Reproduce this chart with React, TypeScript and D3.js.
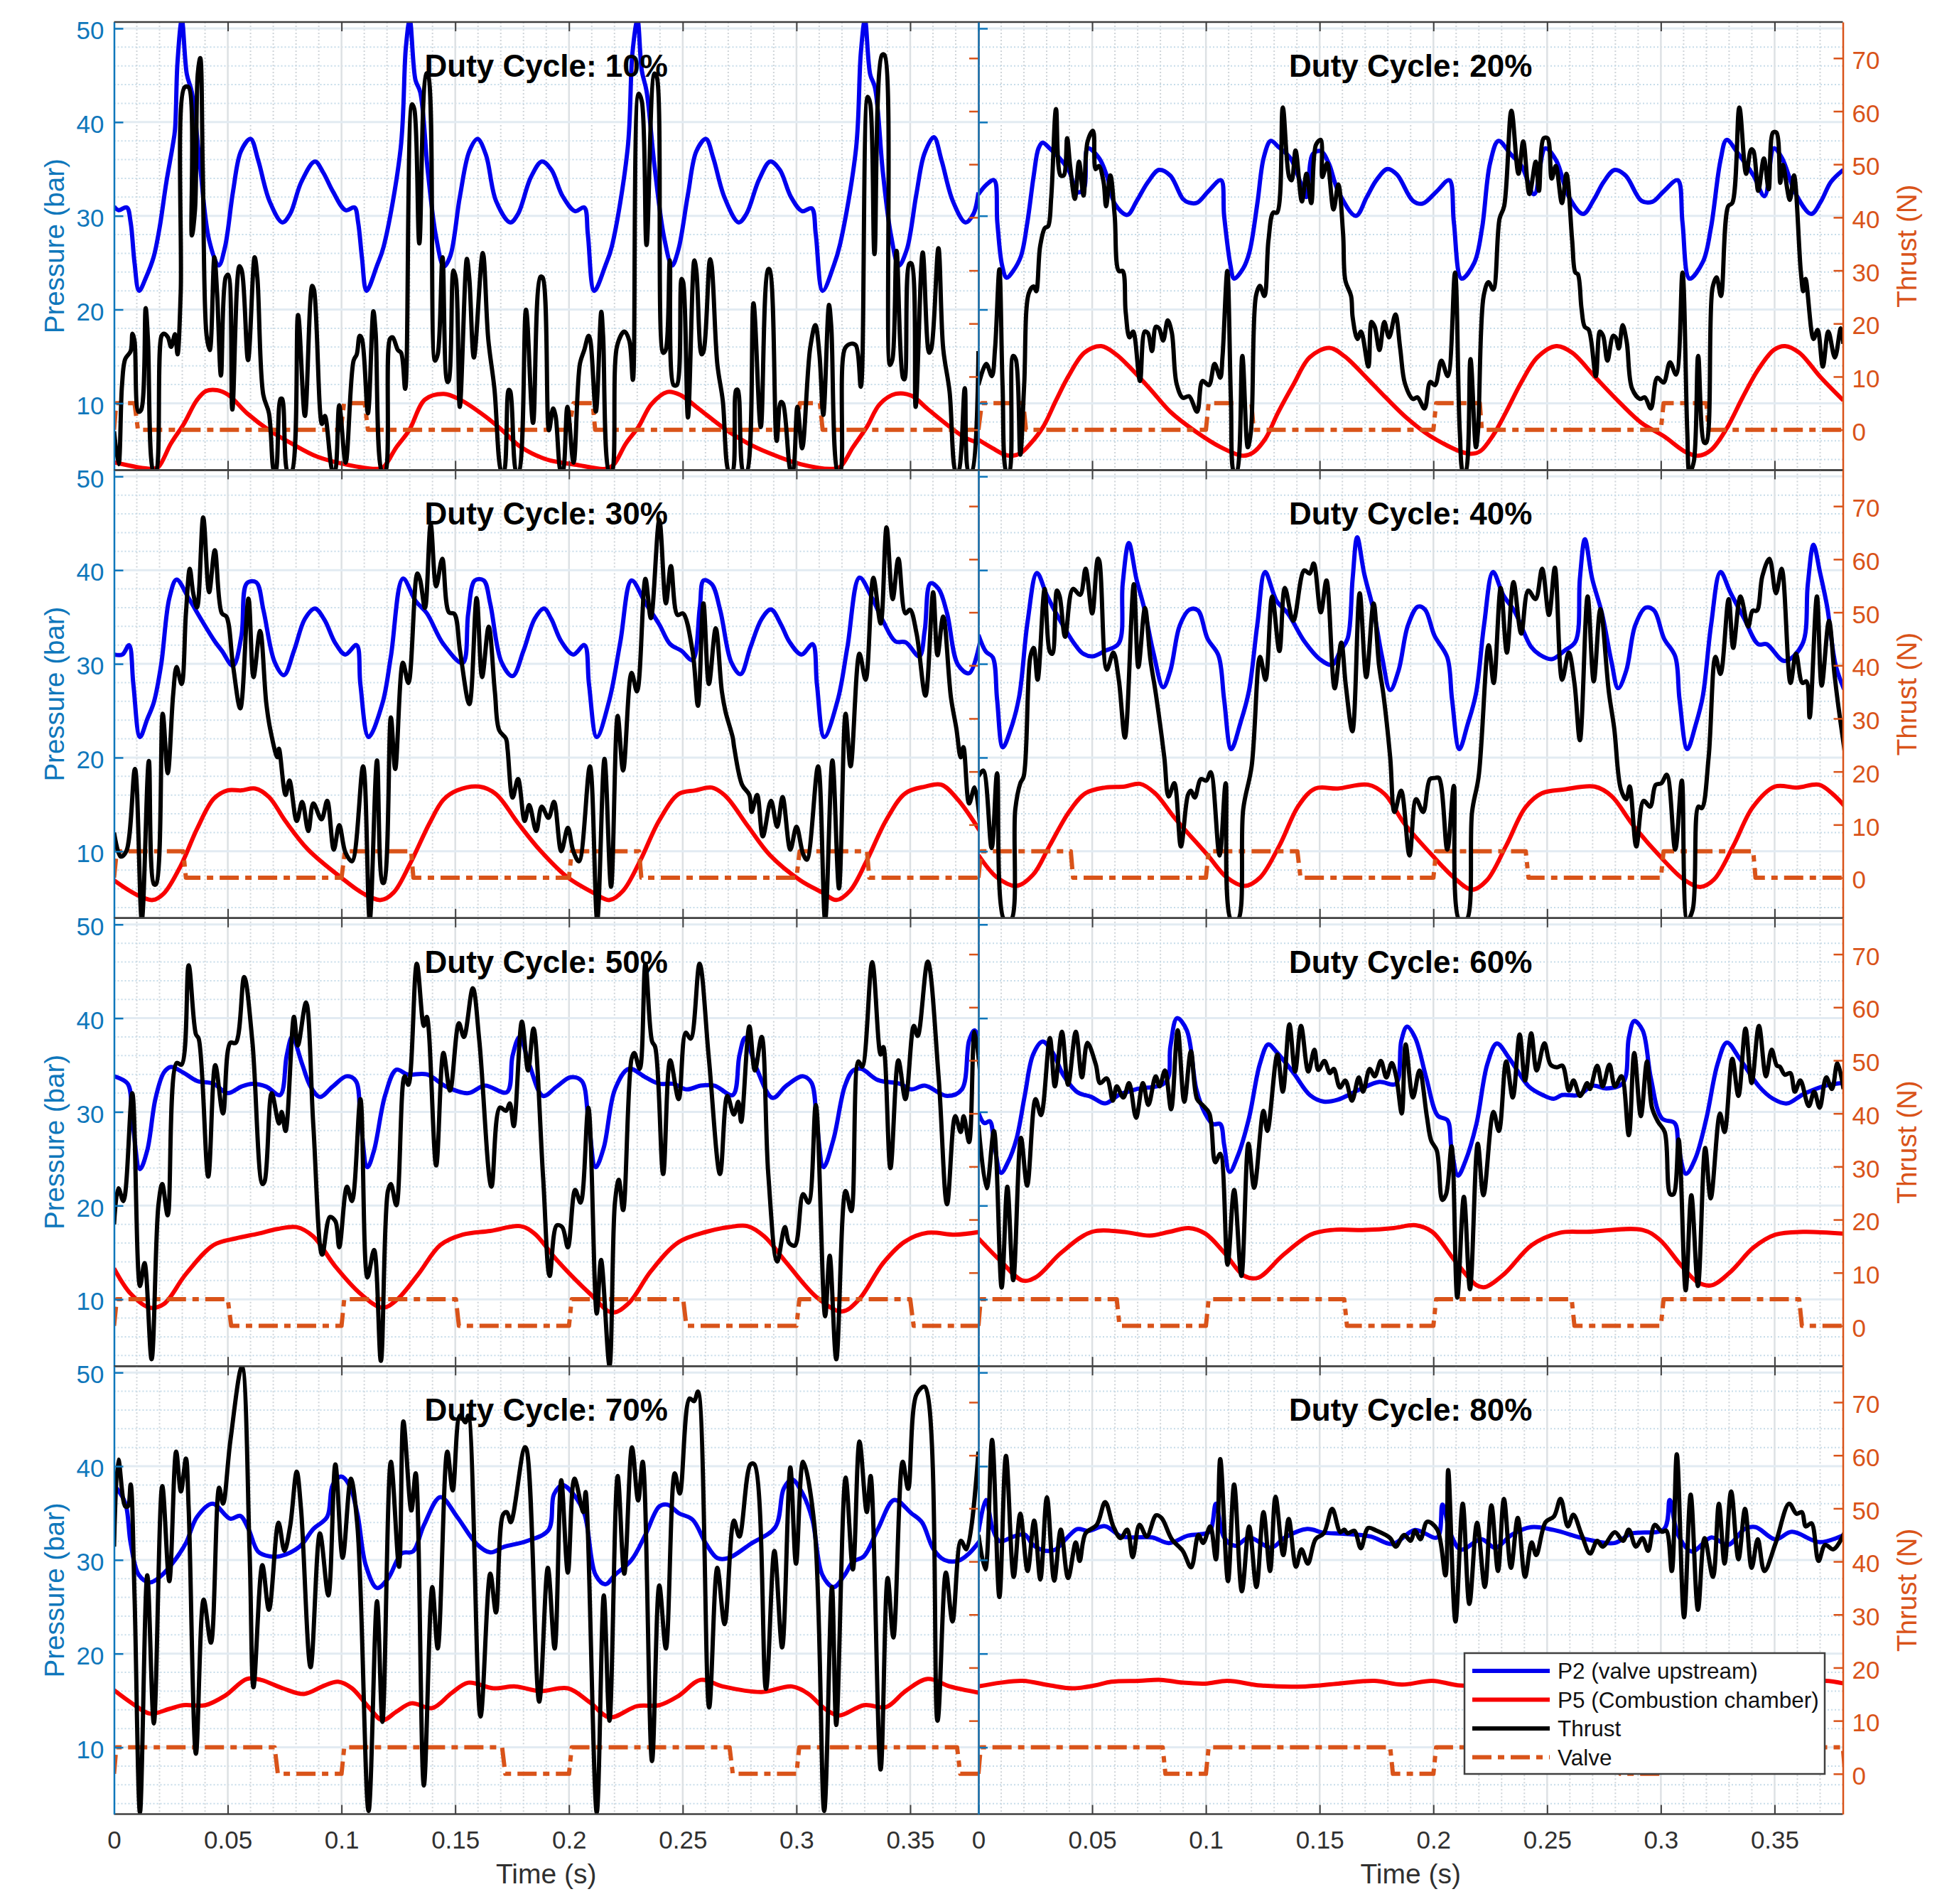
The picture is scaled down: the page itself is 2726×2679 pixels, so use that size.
import React, { useEffect, useRef } from 'react';
import * as d3 from 'd3';

// all series are flat lists: time (ms), value, time (ms), value ...
const p2_10 = [0,31, 2,30.6, 5.6,30.9, 7.3,29.3, 9,25, 11,22, 14,23.4, 17.4,25.6, 20,28.7, 23,33.6, 25.8,37.5, 26.8,39.2, 27.9,46.4, 29.8,50.9, 32,45.1, 34.2,43.2, 37.7,35.6, 41.8,27.4, 46,24.7, 48.8,26.7, 52.3,32.6, 55.8,36.9, 60,38.2, 63.4,35.9, 68.3,31.6, 74,29.3, 77.4,30.2, 82.3,33.6, 88.3,35.8, 92,34.6, 96.2,32.6, 101.8,30.6, 105.7,30.9, 107.3,29.3, 109,25.5, 111,22, 115.6,24.7, 118.5,26.7, 126,37.2, 128.3,48, 130,50.9, 132.5,44.5, 134.6,43.2, 138,34.6, 141.6,27.7, 145,24.6, 147.8,25.7, 152,32, 156.2,36.9, 159.8,38.2, 163.5,36.5, 167.9,31.6, 174.2,29.3, 177.6,30.2, 183.2,34.1, 188.1,35.8, 192.3,34.9, 197.2,32.1, 202.7,30.5, 206.7,30.9, 208.3,28, 211.1,22, 216,24.7, 218.8,26.7, 225.8,37.2, 227.9,47.4, 230.1,50.9, 232,45.5, 234.1,43.3, 237.6,35.3, 241.8,27.7, 245.3,24.7, 248.1,26.4, 252.3,32.3, 256,36.9, 260.2,38.2, 263.4,36.2, 268.3,32, 274.6,29.3, 278,30.2, 283.6,33.9, 288.5,35.8, 292.7,34.9, 297.6,32, 302.5,30.5, 306.7,30.8, 308.5,28, 311.5,22, 316.4,24.7, 319.2,27, 326.2,37.2, 328.3,47.4, 330.1,50.9, 332.4,45.1, 334.5,43.7, 338,34.6, 341.5,28, 345,24.7, 348.5,26.4, 352.7,32.3, 356.2,36.6, 360.4,38.4, 363.8,35.9, 368.7,31.6, 374.3,29.3, 377.8,30.2, 380,32.5];
const p5_10 = [0,3.7, 16.7,3, 19.5,3.2, 25,5.7, 30.7,7.8, 36.3,10.3, 40.4,11.3, 45.3,11.4, 50.2,10.9, 58.6,8.9, 68.3,7.1, 78.1,5.7, 89.3,4.3, 103.2,3.4, 115.8,3, 118.5,3.2, 124.1,5.3, 129.7,7.1, 136.7,10.4, 145,11, 152,10.4, 163.2,8.6, 170.7,7.1, 179,5.3, 190.2,4, 204.1,3.4, 216,3, 219.5,3.4, 225,5.7, 230.6,7.5, 236.2,9.9, 243.2,11.2, 248.8,10.9, 257.1,9.4, 268.3,7.3, 278.1,5.8, 287.8,4.7, 301.8,3.5, 315.7,3, 319.2,3.2, 324.8,5.3, 331,7.5, 336.6,9.9, 343.6,11, 350.6,10.8, 357.6,9.4, 367.3,7.5, 374.3,6.3, 381,5.7];
const thrust_10 = [0,-0.3, 2,-6.5, 3.5,8.4, 4.9,13.3, 7.3,14.8, 8.1,18.1, 9,16.8, 10.7,3.4, 11.9,3.7, 13.9,22.9, 14.9,17.1, 17.4,-8, 18.4,-8, 20.9,17.7, 22,18.1, 23.7,17.4, 25.1,15.6, 26.8,18, 27.9,14.2, 29.3,25.8, 31,64.5, 32.8,64.5, 34.2,36.6, 35.6,41.5, 36.8,67, 37.9,70, 39,49, 40.7,17.7, 42.1,15, 44.1,32.5, 45.3,25.8, 47,10.2, 49.1,28.7, 50.2,29.2, 52,3.8, 55.1,30.8, 56.2,29.9, 58.9,13.1, 61.8,32.5, 63,28.7, 65.6,6.6, 68.1,3.1, 70.4,-8, 71,-8, 73.2,5.8, 73.9,5.8, 76.4,-8, 78,-8, 80.9,21.6, 83.9,2.6, 87.1,27.1, 87.9,26.4, 91.4,1.1, 92.7,2.6, 96.2,-8, 97,-8, 99,4.6, 101.8,-6.2, 105.3,13, 106.7,14.2, 108,17.7, 109,17.1, 111.6,3.1, 114,22.3, 115,18.3, 117.9,-8, 119.2,-8, 121.3,17.1, 122.5,17.4, 124.8,15, 126.2,14.5, 128,7.7, 131,61.3, 132,60.4, 134.2,35.1, 137.3,67.1, 138,67, 141.1,13, 142.3,14.2, 144.4,32.5, 146.5,9, 147.2,9.3, 149.2,30, 150.3,28.4, 152,4.3, 155.1,32.2, 156.2,28.4, 158.2,13.6, 162.1,33.3, 164.5,17.1, 167.2,7.8, 170.4,-8, 171.3,-8, 173.5,7.5, 174.2,7.2, 176.9,-8, 177.9,-8, 181.1,22.6, 184.2,1.3, 187.4,28.8, 188.4,28.7, 191.2,-0.1, 193,4, 194.1,2.6, 196.5,-8, 197.2,-8, 199.3,4.3, 202,-6.2, 204.8,12.4, 206.7,15, 208.6,17.7, 209.4,16.8, 211.8,3.4, 214.2,22.2, 215,17.7, 217.7,-8, 218.8,-8, 221.2,15.9, 224.4,18.5, 226.5,16.8, 228.1,9.4, 230.6,63.3, 232,61.9, 234.1,34.8, 237.6,67.1, 238.6,66.5, 241.4,14.5, 242.5,15, 244.3,31.9, 246,8.4, 247.4,8.4, 249.5,28.4, 250.2,27.8, 252.3,2.3, 255.1,31.9, 256,29.9, 258.3,14.2, 259.2,14.8, 262,32.1, 262.7,31, 265.2,12.4, 267.6,5.5, 270.4,-8, 271.8,-8, 273.5,7.5, 274.2,7.5, 276.7,-8, 278.1,-8, 281.1,23.8, 284.3,0.5, 287.5,30.2, 288.2,30.2, 291.3,-2.1, 293.1,5.2, 294.1,4.9, 297.6,-8, 298.3,-8, 300.4,4.3, 302.5,-3.5, 306,15.3, 308.3,19.7, 310.1,14.2, 311.8,2.8, 314.3,23.5, 315.3,19.4, 318.2,-8, 319.2,-8, 321.3,15.3, 324,16.2, 326.1,15.9, 328.3,8.1, 331.3,62.7, 332.4,61.5, 334.3,33.1, 337.6,70.6, 338.7,70.6, 341.1,12.2, 342.2,13.3, 344,33.7, 346.8,9.8, 347.5,9.5, 349.6,31.3, 350.6,31.3, 352.4,4.3, 355.5,33.4, 358.3,14.5, 359.3,15.3, 362.4,34.2, 364.5,15.3, 367.3,7.2, 370.1,-8, 371.1,-8, 374,7.8, 375.7,-8, 377,-8, 380,14.8];
const valve_10 = [0,0, 1,5, 9,5, 10.5,0, 99.7,0, 101.1,5, 110.2,5, 111.6,0, 199.9,0, 202,5, 210.4,5, 211.5,0, 300,0, 301.5,5, 310.3,5, 311.5,0, 380,0];

const p2_20 = [0,32.3, 3.4,33.3, 6.9,33.8, 8.3,29.3, 10.4,24.7, 12.4,23.4, 15.2,24.1, 18.7,25.7, 21.5,29.3, 24.3,34.3, 26.4,37.2, 28.2,37.8, 31.3,37.2, 35.5,36.2, 39.6,34.9, 43.8,32.5, 46.5,33, 48,37.2, 52.9,36.2, 56.4,34.3, 59.9,31.3, 65.4,30.1, 69.6,31.6, 74.5,33.6, 79.4,34.9, 84.3,34.3, 89.9,31.8, 92.6,31.4, 96.1,31.4, 101,32.6, 106.6,33.8, 108,30, 110.8,24.7, 112.4,23.3, 116.4,24.4, 119.1,26.1, 122.6,31.3, 125.4,36.2, 128.5,38, 131.7,37.4, 137.3,36.1, 141.5,33.6, 144.2,32, 147,36.6, 150.5,36.9, 154,35.6, 158.2,32.6, 165.9,30, 170.7,32, 174.9,33.8, 179.8,35, 184,34.4, 191,31.6, 195.2,31.3, 201.4,32.6, 207,33.8, 209,29.3, 212.4,23.3, 218,25, 221.4,28.7, 224.9,35.6, 228.6,38, 233.9,36.6, 238.8,35.3, 244.3,32.3, 249.2,37.2, 254,35.9, 259.6,32, 265.8,30.2, 270.7,31.8, 274.8,33.6, 279.7,34.9, 284.5,34.3, 291.5,31.6, 296.3,31.5, 301.2,32.6, 307.4,33.8, 309.5,29.3, 312.6,23.3, 318.5,25.1, 322,28.7, 326.2,35.9, 328.9,38.1, 333.8,36.7, 340.7,34.3, 345.6,32.1, 349.7,37.2, 353.2,36.2, 359.4,32.3, 366.1,30.2, 370.5,31.6, 374.7,33.6, 380.2,34.9];
const p5_20 = [0,6.1, 6.2,5.2, 11.7,4.5, 15,4.4, 18.7,4.7, 22.9,5.7, 28.5,7.5, 34.1,10.3, 39.6,12.9, 46.6,15.4, 54,16.1, 60.6,15.2, 67.5,13.6, 75.9,11.4, 84.3,9.1, 95.4,7, 106.6,5.3, 116.3,4.4, 120.5,4.7, 126.1,6.2, 131.7,9, 138.7,12.1, 145.6,14.9, 154.3,15.9, 161,15, 170.7,12.7, 179.1,10.6, 188.9,8.3, 198.6,6.5, 212.4,4.8, 216.6,4.6, 220.7,4.9, 226.3,6.6, 231.8,9, 238.8,12.3, 245.7,14.9, 254,16.1, 261,15.4, 270.7,12.9, 281.8,10.1, 291.5,7.9, 301.2,6.5, 310.9,4.8, 316.4,4.4, 322,5, 328.9,7.3, 335.9,10.6, 342.8,13.6, 349.7,15.7, 354.6,16.1, 360.8,15.4, 370.5,12.7, 380.2,10.3];
const thrust_20 = [0,8.4, 3.4,12.4, 5.9,10.1, 7.3,15.3, 9.2,30.2, 10.6,8.4, 12.4,-8, 13.5,-8, 15.2,13.9, 16.4,13.3, 18.4,-4.7, 20.1,8.4, 22.2,25.8, 24.3,27, 25.4,26.1, 27.1,34.5, 29.2,38, 30.6,38.3, 32,43.8, 34.1,60.4, 36.1,47.9, 37.5,47.9, 39,54.9, 40.3,49.7, 42.4,43.5, 44.2,50.5, 46.2,44.1, 48,54.3, 50.4,56.3, 51.5,49.1, 52.9,49.7, 55,46.7, 56.1,42.1, 58,47.9, 59.9,40.3, 61.7,29.9, 63.4,29.9, 64.7,22.3, 66.4,17.4, 68,18.5, 71,9.2, 73.1,18.5, 74.5,18.2, 76.3,14.8, 78,19.4, 79.4,19.1, 81.2,16.8, 83.2,20.6, 85,18.3, 87.1,8.7, 89.9,6, 92.6,6.3, 96.1,3.4, 98.5,9.2, 101.3,8.4, 103.8,12.4, 106.3,9.8, 107.3,13.8, 109.4,29.9, 111,5.5, 112.4,-8, 113.5,-8, 116,13.9, 118.4,-3.3, 119.8,-0.3, 122,25.2, 123.7,27.1, 125.7,25.2, 127.5,35.7, 129.6,40.9, 131.3,40.9, 133.8,60.7, 136.6,47.6, 137.7,47, 139.4,52.6, 142.2,43, 144.2,48.2, 146.3,42.7, 148.4,53.7, 150.5,54.6, 151.2,47.6, 153.3,50.2, 156.1,41.5, 158.2,46.2, 160.3,36.9, 161.3,28.1, 163.8,25.2, 164.5,21.2, 166.6,17.1, 168.2,18.5, 171.4,11.9, 172.8,20.3, 174.2,19.4, 176.3,15, 178.4,20.3, 180.5,17.4, 183.3,21.7, 185.4,15.3, 187.5,8.7, 191,5.8, 193,6.1, 196.1,4, 198.6,9, 200.7,8.4, 203.5,13, 206.3,10.1, 209.5,29.6, 211.6,-0.3, 213.1,-8, 214.1,-8, 216.3,13.3, 218.7,-3.3, 219.6,-0.3, 222.1,25.2, 224.2,27.8, 226.3,26.4, 229.1,39.8, 231.1,42.1, 234.3,60.1, 237.4,48.2, 239.5,54.3, 242.2,44.4, 245,50.5, 246.4,45, 248.5,54.9, 250.2,54.9, 252,47.3, 253.8,49.7, 256.5,42.7, 258.5,48.2, 261,35.7, 262.4,29.6, 263.5,29.3, 265.1,22.9, 266.5,19.4, 268.3,18.8, 271.4,10.1, 273.2,18.5, 274.6,17.7, 276.5,13, 279,17.7, 280.1,17.4, 281.5,15.3, 283.2,19.7, 285,16.5, 287.3,7.8, 290.8,5.8, 292.9,6.1, 295.6,4, 298.4,9.8, 301.2,8.9, 304,12.7, 306.7,10.4, 309.5,29.6, 311.6,-0.3, 312.6,-8, 314.4,-6.2, 316.4,13.9, 319,-2.4, 320,-2.4, 322.7,26.7, 324.5,28.7, 326.4,25.2, 329.6,42.1, 331.4,42.7, 334.5,60.7, 337.5,48.2, 339.7,52.8, 340.7,52.5, 342.8,45, 345.3,51.1, 347.4,45.3, 349.3,56, 350.8,56, 352.5,46.5, 353.6,49.9, 356.7,43.3, 358.5,47.9, 361.5,29.9, 362.6,26.1, 363.6,28.4, 367.1,17.1, 368.9,18.8, 371.2,11.9, 373.6,18.5, 376.5,13.6, 379.1,19.1, 380.2,16.2];
const valve_20 = [0,0, 1.5,5, 19.7,5, 20.9,0, 100,0, 101.2,5, 120,5, 121,0, 200,0, 201.2,5, 220.4,5, 221.3,0, 300,0, 301.2,5, 320,5, 321,0, 380,0];

const p2_30 = [0,31, 3.7,31, 6.6,32, 8.5,27.8, 11.4,22.2, 14.6,24.1, 17.5,25.9, 20.7,29.9, 24.3,37, 27.5,39, 32.8,37, 38.9,34.5, 44.3,32.4, 47.4,31.4, 52.3,29.8, 56,33, 58.4,38.6, 62.5,38.7, 65.7,35.7, 70.6,30.2, 74.7,28.8, 79.1,31.4, 83.9,34.8, 88.3,35.9, 92.5,34.7, 97.3,32.2, 101.7,31, 106.6,32, 108.3,27.8, 111.9,22.2, 118,25.8, 121.7,30.8, 127,39.1, 132.6,36.7, 137.5,35.4, 144.8,32.1, 153.3,30.1, 155.7,35.4, 158.6,38.9, 162.5,38.9, 165.4,36.4, 170.3,30.2, 175.2,28.7, 180,31.4, 184.9,34.8, 189,35.9, 192.2,34.8, 196.6,32.4, 201.9,31, 206.8,32, 208.8,27.8, 212.2,22.2, 217.8,26.2, 222.6,32.4, 227.5,38.9, 233.6,36.5, 239.7,34.2, 244.5,32.1, 249.4,31.4, 254.3,30.4, 257.5,36, 259.2,38.9, 262.8,38.5, 266.5,35.7, 271.3,30.2, 275.4,28.9, 279.8,31.8, 284.7,34.8, 288.8,35.8, 293.2,34.2, 296.8,32.4, 302.2,31, 307.1,32.1, 309,27.8, 312.2,22.2, 318.2,26.2, 322.4,31.8, 327.7,39.2, 333.3,37, 338.2,34.5, 343.5,32.4, 348,32.3, 354,30.8, 356.4,33.6, 358.9,38.6, 362.5,38, 366.2,35.4, 371,29.9, 375.9,29, 381.5,33.3];
const p5_30 = [0,6.9, 9.7,5.4, 17,4.8, 21.9,5.5, 29.2,8.4, 36.5,12.4, 43.8,15.6, 49.9,16.5, 56,16.5, 62,16.7, 68.1,15.8, 75.4,13.2, 85.2,10.2, 99.8,7.2, 109.5,5.5, 117.3,4.8, 122.9,5.6, 130.2,8.7, 138.7,13, 144.8,15.5, 150.9,16.5, 160.6,16.9, 167.9,16.1, 177.6,13, 187.3,10.1, 199.5,7.2, 210.5,5.6, 217.8,4.8, 223.8,5.8, 231.1,8.9, 239.7,13.3, 248.2,16.1, 255.5,16.5, 262.8,16.8, 268.8,15.9, 278.6,12.7, 288.3,9.6, 301.7,6.9, 311.4,5.6, 317.5,4.8, 323.6,5.8, 330.9,9, 339.4,13.3, 347.9,16.2, 356.4,16.9, 363.7,17.1, 371,15.5, 380.8,12.1];
const thrust_30 = [0,8.5, 2.9,4, 5.4,5, 9.2,20.5, 12.2,-8, 15.3,22, 17.5,-1.2, 18.5,-1.2, 21.4,30.9, 23.6,19.7, 26,34.6, 27.5,39.7, 29.7,36.5, 31.6,49.8, 33.3,58.2, 34.8,53.6, 36.5,50.9, 39.2,67.9, 41.8,53.8, 44.3,61.7, 47.4,49.8, 49.4,49.2, 52.3,40, 55.5,31.9, 59.1,52.6, 61.3,37.8, 64.2,46.5, 66.9,33, 68.6,28.1, 71.8,22.7, 72.5,24.3, 75.4,15.6, 77.1,18.3, 80.3,10.7, 82.7,14.3, 85.4,8.8, 87.6,14, 91.2,11, 93.7,14.5, 96.6,5.3, 99,9.9, 101.7,4.8, 104.6,3.1, 109.5,21, 112.4,-8, 115.6,22.1, 118,-0.9, 118.7,-0.9, 121.7,30.2, 123.6,20.5, 127,40.5, 129.4,36.7, 133.3,57.3, 134.5,56.2, 136.7,50.8, 139.2,66.6, 141.6,54.9, 144.3,60.1, 147.2,50, 149.6,49.7, 152.1,42.7, 156.2,32.7, 159.4,52.7, 161.8,37.8, 164.7,47.3, 167.4,35.1, 169.3,27.8, 172.3,26.2, 173,24.2, 175.2,15.1, 177.6,18.6, 180.5,10.7, 182.5,13.7, 185.6,8.8, 188,13.4, 191,11.3, 193.4,14.3, 196.6,5, 199.5,9.4, 201.9,5, 204.4,3.1, 209.2,21, 212.4,-8, 215.6,22.4, 218.5,-1.7, 221.4,30.5, 223.8,20.2, 227.5,38.6, 229.9,35.1, 233.6,56.3, 236,48.9, 239.7,67.4, 242.6,51.7, 244.8,58.7, 247.7,49.5, 250.1,49.8, 254.3,42.7, 256.7,32.4, 259.1,51.7, 261.5,36.5, 264.5,47, 267.2,35.1, 268.8,31.3, 272,26.4, 272.6,24.6, 276.1,17.5, 279.3,15.6, 280.3,12.4, 282.7,15.6, 285.2,7.8, 288.8,14.5, 291.5,9.6, 293.9,15.2, 297.3,5.3, 300,9.6, 302.9,4.5, 304.6,3.4, 309.5,21, 312.6,-8, 315.8,22.1, 318.7,-2, 321.6,30.9, 323.8,21, 327.7,42.2, 330.4,37.3, 333.8,56.5, 337,47.9, 339.6,66, 342.3,52.5, 344.8,60.1, 347.9,49.8, 349.9,50.5, 352.8,46, 356.7,34.3, 360.1,53.8, 362,41.9, 364.5,49.2, 367.9,34, 370.3,28.1, 372.2,22.7, 373.4,24.6, 375.9,14, 378.3,17, 380.8,9.6];
const valve_30 = [0,0, 1.2,5, 30.4,5, 31.6,0, 100,0, 101.5,5, 130.6,5, 131.6,0, 200,0, 201.2,5, 230.8,5, 231.8,0, 300,0, 301.4,5, 331,5, 332,0, 380,0];

const p2_40 = [0,33.1, 3.3,31.3, 6.3,30.7, 8.2,26.2, 10.7,21.1, 14.3,23.1, 17.9,26.5, 21.6,34.5, 25.7,39.7, 30.1,37.3, 36.2,34.5, 42.3,32.1, 45.9,31.1, 50.1,30.8, 55.7,31.4, 61.7,32.2, 63.4,38.5, 66.1,42.9, 69.5,39, 72.7,36.1, 77,31.1, 81.2,27.5, 84.4,29.3, 88.5,34.1, 92.9,35.8, 96.5,35.7, 100.7,32.7, 105.5,30.9, 108,26.2, 111.1,20.9, 115.3,23.8, 118.9,27.1, 122.6,34.2, 126,39.8, 131.1,36.7, 136,35.4, 143.3,32.4, 150.6,30.4, 155.5,29.9, 159.1,31.4, 162.3,32.7, 164.5,39.1, 166.5,43.5, 169.6,39.6, 173.7,35.7, 177.4,30.8, 181,27.2, 184.7,29.3, 188.8,34.1, 193.2,36.1, 196.3,35.8, 200.5,33, 206.1,30.7, 208.2,26.2, 211.4,20.9, 215,23.5, 218.7,26.8, 222.3,34.2, 226.2,39.8, 230.8,37.3, 235.7,35.6, 243,31.8, 246.6,31, 252,30.5, 257.6,31.4, 262.5,32.4, 264.4,39.1, 266.6,43.3, 269.8,39.1, 274.1,35.4, 278.3,30.2, 281.2,27.4, 284.8,29.3, 288.7,34.1, 293.3,36, 297,35.7, 301.4,32.7, 306.3,30.8, 308.2,26.2, 311.6,20.9, 315.3,23.5, 318.4,26.5, 322.1,34.2, 326.2,39.8, 330.6,37.6, 336.7,34.8, 342.8,32.1, 346.5,32.1, 354.4,30.3, 362.2,32.1, 364.6,38.5, 367.1,42.7, 370,39.7, 373.1,36.1, 376.8,29.9, 380.5,27.3];
const p5_40 = [0,9.6, 8.2,7.2, 16.7,6.3, 24,7.5, 31.3,10.6, 39.8,14.2, 47.1,16.2, 55.7,16.8, 64.2,16.9, 71,17.2, 77.6,16.2, 86.1,13.6, 100.7,9.6, 109.2,7.2, 117,6.3, 123.8,7.2, 132.3,10.6, 140.8,14.9, 148.1,16.7, 158,16.7, 171.3,17.1, 178.6,16.1, 187.1,13, 200.5,9.3, 209,7.2, 217,5.9, 223.5,6.9, 232,10.6, 240.5,14.7, 247.8,16.2, 257.5,16.6, 270.9,16.9, 278.3,15.9, 288,12.7, 301.4,9, 310,7, 317.3,6.2, 323.4,7, 331.9,10.6, 340.4,14.7, 350.1,16.9, 359.8,16.8, 369.5,17.1, 375.6,16.1, 380.5,14.9];
const thrust_40 = [0,19.1, 2.1,20.2, 5.8,5.6, 8.2,19.7, 11.4,-8, 14.3,-8, 16.2,12.9, 18.4,17.8, 19.9,19.1, 22.8,41.6, 24.3,43.3, 26,37.3, 29.1,54.4, 31.3,42.7, 32.5,42.2, 34.5,54.1, 35.7,53, 38.1,45.4, 41.5,54.4, 44.7,53.3, 47.1,58.2, 50,49.8, 52.5,60.1, 53.2,59.6, 56.4,39.2, 59.3,42.4, 61.7,37.3, 64.4,26.4, 68.3,55.3, 70.3,39.7, 73.2,50.8, 75.6,41.1, 78,34.6, 81.7,22.7, 83.6,15.3, 86.1,17.8, 89,5.9, 92.1,15.6, 93.4,16.4, 95.1,15.1, 97.8,18.6, 100.2,18.3, 102.1,19.9, 106,4.2, 108.7,17.8, 111.1,-8, 114,-8, 116.4,12.9, 120.1,21, 123.8,41.6, 126.2,37.3, 129.1,53, 132.3,42.7, 134.7,54.6, 138.4,48.4, 143.2,57.9, 145.6,57.3, 147.4,59.2, 150.5,50, 153,56, 156.6,35.7, 159.5,44.3, 161.5,36.2, 164.4,27.6, 167.6,53.6, 170.5,37.8, 173.7,51.7, 176.1,40, 178,34.6, 181,22.7, 182.9,12.4, 185.8,16.4, 189.5,4.2, 192.4,14.8, 195.5,12.4, 198.5,18.6, 200.7,18.8, 202.4,18.8, 206.1,5.3, 209,17.3, 211.4,-8, 214.5,-8, 217,12.4, 219.9,19.1, 224.3,43.8, 226.5,36.7, 229.6,54.6, 232.3,42.4, 235.2,55.7, 238.6,46, 241.7,54.1, 244.9,52.5, 247.8,58.2, 250.8,49.5, 253.4,58.4, 256.6,37.3, 259.5,42.4, 262,36.7, 264.4,25.9, 267.8,53, 270.5,37, 273.4,50.6, 277.1,35.1, 279.5,28.1, 282.4,16.7, 284.8,14.8, 286.3,17.2, 289.2,5.9, 292.4,14.5, 295.3,13.4, 297.7,17.5, 300.2,17.8, 302.6,19.4, 306.3,5.3, 309.2,18.3, 311.6,-8, 314,-6, 316.5,13.4, 318,13.1, 321,22.7, 324,41.6, 326.2,38.4, 329.8,52.5, 331.8,43.3, 335,53, 338.4,47.3, 340.3,50.3, 342.2,50.3, 344.6,56.8, 347.7,60.1, 350.6,53.6, 353.1,58.2, 357,36.7, 359.4,42.2, 362.2,36.7, 364,37, 365.4,30.2, 368.6,53, 370.7,36.2, 373.9,48.4, 376.3,38.4, 378,32.4, 381,23.2];
const valve_40 = [0,0, 1.2,5, 40.6,5, 41.6,0, 100,0, 101.2,5, 140.2,5, 141.6,0, 200,0, 201.2,5, 240.6,5, 241.8,0, 300,0, 301.2,5, 340.6,5, 341.6,0, 380,0];

const p2_50 = [0,33.8, 6,33, 8,29.3, 11.4,23.9, 14.6,25.9, 18.2,31.4, 21.9,34.2, 25,34.8, 30.4,34.2, 36.5,33.3, 43.8,33, 49.9,32, 56,32.7, 60.8,33, 66.9,32.7, 73,31.8, 75.9,36, 78.3,38, 82.7,35.1, 86.4,32.7, 90.5,31.6, 96.1,32.7, 102.2,33.8, 106.3,33.3, 108.3,29.3, 111.4,24.1, 114.3,25.9, 119.2,31.8, 124.1,34.5, 129,34, 137.5,34, 146,32.7, 155.7,32, 163,32.8, 172.7,32.1, 175.2,36, 178.3,38, 182.5,35.1, 188.6,31.7, 194.6,32.7, 200.7,33.7, 205.6,33.3, 208.5,29.3, 211.7,24.1, 215.3,26.2, 220.2,32.4, 226.3,34.6, 233.6,33.7, 239.7,33, 245.7,33, 251.8,32.4, 257.9,32.8, 264,32.8, 272,31.8, 274.9,36, 277.4,37.9, 282.2,34.8, 289.5,31.5, 295.6,32.8, 302.9,33.8, 306.6,33.1, 309,28.7, 311.9,24.1, 316.3,27.1, 321.2,32.7, 324.8,34.4, 328.4,34.6, 335.8,33.4, 345.5,33, 350.4,32.4, 356.4,32.8, 366.2,31.7, 372.7,32.4, 375.9,37.6, 378.3,38.7, 380.8,37.6];
const p5_50 = [0,13.3, 7.3,10.6, 15.8,9.1, 21.9,9.5, 31.6,12.7, 43.8,15.8, 53.5,16.5, 63.3,17, 71.8,17.5, 80.3,17.7, 87.6,16.7, 97.3,13.5, 108.3,10.6, 118,9.1, 124.1,9.9, 133.8,12.7, 143.5,15.8, 153.3,16.9, 165.4,17.3, 178.8,17.8, 184.9,17, 194.6,14.2, 209.2,10.6, 219,8.6, 226.3,9.6, 236,13, 248.2,16.1, 260.3,17.2, 270.1,17.7, 278.6,17.8, 285.9,16.7, 295.6,13.9, 309,10.2, 320,8.7, 327.2,9.9, 338.2,13.9, 347.9,16.2, 357.7,17.1, 369.8,16.9, 380.8,17.2];
const thrust_50 = [0,19.1, 1.9,25.9, 4.1,23.5, 8,43.8, 11.4,7.5, 13.4,11.8, 16.5,-6.3, 19.5,22.7, 21.2,26.7, 23.6,20.8, 27.5,49.5, 29.7,49.2, 32.8,67.9, 36,54.9, 37.2,54.1, 41.4,28.1, 44.5,49.1, 47.9,40, 51.1,53.3, 53.5,53.3, 57.2,65.7, 60.8,53.6, 65.2,26.7, 66.2,27.2, 69.3,43.8, 72.5,38.1, 73.7,40.3, 75.4,36.7, 79.1,58.2, 80.8,52.8, 84.4,60.9, 87.6,37.8, 91.5,13.4, 94.9,20.5, 97.3,19.7, 99,14.8, 102.4,26.2, 104.6,23.5, 108.3,42.7, 111.4,9.1, 114.3,14.3, 117.3,-6.6, 120.4,25.4, 121.7,26.7, 124.1,22.7, 127.7,47, 129.4,45.4, 133.1,68.2, 136.2,56.5, 137.5,58.2, 141.6,30.2, 144.8,51.4, 147.7,44.3, 151.6,57, 153.8,54.4, 157.7,63.6, 160.6,53.6, 165.9,26.2, 169.6,41.1, 172.3,40.5, 174,41.9, 175.7,37.6, 179.3,57.3, 182,48.1, 184.4,56, 188.6,28.1, 191.5,9.4, 194.6,18.9, 197,18.6, 199.5,14.8, 202.7,25.6, 205.1,23.2, 208.5,41.1, 212.2,2.3, 214.1,12.4, 217.8,-7.5, 220.2,23.2, 221.9,27.5, 223.8,21.8, 227.5,50.3, 228.7,51.4, 231.1,48.4, 233.6,68.2, 236.5,53.6, 237.9,52.5, 241.4,28.6, 244.5,50, 248.2,42.7, 251.3,55.2, 253.5,54.1, 257.4,68.2, 261.5,50.3, 266.4,28.6, 269.6,43.3, 272.5,39.8, 274.4,42.2, 275.7,38.4, 279.3,56.4, 281.7,48.1, 284.7,54.4, 287.6,28.6, 291.5,12.1, 294.9,18.6, 296.8,15.6, 299.3,15.1, 302.9,24.8, 305.3,23.2, 308.5,41.6, 312.6,1.8, 314.6,13.2, 317.5,-6.3, 321.6,25.4, 324.1,21.6, 327.2,49.8, 328.9,48.8, 333.3,68.5, 337,51.1, 338.2,52.5, 341.3,29.7, 344.8,50, 347.9,42.7, 351.6,56.5, 353.3,54.6, 357.7,68.6, 362.5,46.8, 366.2,22.9, 369.8,39.5, 372.2,36.5, 373.5,39.5, 375.9,34.6, 378.3,55.4, 380.8,47.5];
const valve_50 = [0,0, 1.2,5, 50,5, 51.5,0, 100,0, 101.2,5, 150.3,5, 151.6,0, 200,0, 201.2,5, 250.2,5, 251.6,0, 300,0, 301.3,5, 350,5, 351.5,0, 380,0];

const p2_60 = [0,29.9, 2.6,28.8, 5,29, 7,26.5, 9.9,23.5, 13.1,24.7, 16.7,27.1, 20.4,31.8, 24,36.1, 28.2,37.5, 32.5,36.4, 37.4,33.9, 43.5,32.1, 49.6,31.6, 55.7,30.9, 61.7,31.8, 69,32.4, 82.4,33.2, 84.4,37, 87.3,40, 91.6,38.7, 95.8,32.4, 99.5,29.9, 103.1,28.7, 106.3,28.7, 108,26.5, 110.4,23.6, 114,25.3, 118.9,29.3, 123.7,35.1, 127.4,37.2, 131,36.4, 138.4,34.2, 145.7,31.8, 151.8,31.1, 157.9,31.3, 167.7,32.4, 176.2,33.2, 183.5,33, 185.9,37.6, 188.4,39.1, 192,37.9, 196.9,33.6, 201.9,29.6, 206.2,29.1, 207.9,26.2, 210.8,23.2, 214,24.7, 218.9,28.7, 223.7,35.1, 227.9,37.3, 233.4,35.7, 242,32.7, 248.1,31.8, 252.9,31.4, 256.6,31.8, 263.9,31.8, 270,32.8, 276.1,32.5, 283.4,33.1, 285.9,37.9, 288.3,39.7, 292,38.7, 295.6,33.6, 300.5,29.3, 306.1,28.8, 307.8,26.2, 311,23.4, 315.1,25, 320,29.3, 324.9,35.1, 329,37.4, 334.6,35.7, 343.2,32.7, 349.3,31.4, 355.4,30.9, 362.7,31.9, 372.4,32.8, 380.8,33.1];
const p5_60 = [0,16.5, 9.7,14.1, 19.5,12, 25.5,12.4, 36.5,15, 49.9,17.2, 63.3,17.2, 75.4,16.8, 83.9,17.2, 92.5,17.6, 99.8,17, 108.3,14.9, 116.8,12.5, 122.9,12.3, 133.8,14.7, 146,16.9, 155.7,17.4, 170.3,17.4, 182.5,17.6, 192.2,17.9, 199.5,17.2, 209.2,14.2, 219,11.5, 222.6,11.3, 231.1,12.7, 243.3,15.8, 255.5,17.1, 267.6,17.2, 292,17.4, 299.3,16.4, 309,13.6, 316.3,11.8, 322.4,11.5, 330.9,13, 340.6,15.5, 350.4,16.9, 362.5,17.2, 380.8,17];
const thrust_60 = [0,37.8, 3.6,25.9, 6.8,36.7, 10.2,7.2, 12.7,26.2, 15.3,8.6, 18.7,35.4, 21.4,26.4, 25.1,42.7, 27.5,39.7, 31.4,54.2, 33.6,45.1, 36.7,55.4, 39.4,45.4, 42.8,55.4, 45.5,46.8, 47.9,53.3, 51.6,49.2, 53.5,45.7, 56.4,46.6, 59.1,42.4, 60.8,45.1, 63.7,43, 66.2,45.7, 69.3,39.2, 72.3,45.7, 74.7,41.6, 77.9,47, 79.6,45.1, 82,48.1, 84.7,40.8, 87.6,55.7, 90.5,42.2, 93.4,51.7, 96.1,42.7, 98.5,41.6, 101.5,40, 104.1,30.8, 106.3,32.4, 109.5,11.5, 112.4,25.6, 115.6,9.4, 118.7,34.3, 121.2,26, 125.3,40.5, 127,36.7, 131.4,51.1, 133.8,44.1, 136.7,56.8, 139.2,47.9, 141.8,56.5, 145,47.9, 147.7,52, 149.4,48.2, 152.1,49.9, 154.5,47.6, 156.2,48.4, 158.9,44.9, 161.3,46.2, 164.2,42.4, 167.2,46.8, 169.1,44.1, 172,48.4, 174.2,47, 176.9,49.9, 179.3,46.8, 181.7,49.5, 183.7,46.8, 186.1,40, 187.8,53, 191,43, 193.9,48.1, 197.1,39.5, 199,34.9, 201.5,33, 203.9,23.7, 205.6,24.8, 208,33.8, 210.5,5.3, 213.4,24.3, 216.1,6.9, 219.5,34.3, 222,24.6, 226.4,40.3, 228.8,36.7, 232,49.8, 234.9,43, 237.9,54.9, 240.3,46.2, 243,55.1, 245.4,48.1, 248.8,53.2, 251.5,49.2, 254.3,48.7, 256.7,49, 259.6,44.3, 261.6,46.2, 264.5,43.3, 267.6,45.7, 268.8,44.6, 272,49, 274.4,45.1, 277.4,49.2, 279.8,45.1, 282.7,47, 285.9,35.9, 288.3,51.4, 291.2,39.5, 293.9,49.8, 296.1,41.1, 298.8,38.4, 301.7,36.5, 304.1,24.8, 305.6,24.8, 307.8,35.1, 310.9,6.7, 313.4,24.6, 316.3,7.5, 319.5,33.5, 321.9,24, 326,40, 328,36.5, 331.4,50.3, 334.1,43.3, 337.2,56, 339.9,45.7, 343.1,56.5, 346.2,47, 348.7,52, 351,49, 352.3,48.8, 354.5,47.3, 356.9,47.6, 358.9,44.1, 361.3,46.2, 365,41.4, 367.4,44.1, 369.8,41.1, 372.7,46.8, 375.2,44.6, 377.6,49.5, 380.3,44.6];
const valve_60 = [0,0, 1,5, 60.8,5, 62,0, 100,0, 101.2,5, 160.8,5, 162,0, 200,0, 201.2,5, 260.8,5, 262,0, 300,0, 301.2,5, 360.8,5, 362,0, 380,0];

const p2_70 = [0,38, 4.9,36.1, 7.3,31.8, 10.9,28.4, 15.8,27.6, 20.7,28.3, 26.8,30, 31.6,31.8, 36.5,34.6, 43.3,36, 51.1,34.4, 55.5,34.7, 59.1,33.3, 63.3,30.9, 68.1,30.4, 73,30.4, 81.5,31.4, 87.6,33.3, 93.7,34.6, 96.1,38, 99.8,38.9, 103.4,38, 107,34.9, 110.7,29.4, 115.6,27, 120.4,28, 126.5,30.7, 131.4,30.9, 136.2,33.7, 143.5,36.7, 150.8,34.6, 159.4,31.7, 165.4,30.8, 171.5,31.4, 181.3,32, 191,33.2, 193.4,37, 197.1,38, 202,37, 206.8,34.9, 211.7,28.4, 216,27.4, 220.2,28.4, 227.5,30, 233.6,32.7, 239.7,35.7, 243.3,35.9, 248.2,35, 254.3,34.3, 260.3,31.7, 265.2,30.2, 270.1,30.2, 279.8,31.7, 290.7,33.5, 294.4,37.6, 298,38.6, 302.9,37, 307,34.3, 311.4,28.4, 316.3,27.1, 321.2,28.4, 324.8,29.8, 329.7,30.4, 335.8,33.3, 343,36.4, 350.4,35, 355.2,34, 360.1,31.2, 365,30, 371,29.9, 375.9,30.7, 380.8,32.1];
const p5_70 = [0,16.1, 8.5,14.6, 15.8,13.6, 24.3,14.1, 30.4,14.5, 40.1,14.5, 48.7,15.5, 58.4,17.3, 64.5,17.2, 74.2,16.3, 83.5,15.7, 92.5,16.6, 98.5,17, 104.6,16.3, 111.9,14.3, 118,12.9, 124.1,13.8, 130.7,14.7, 139.9,14.2, 148.4,15.8, 155.7,16.9, 166.7,16.3, 176.4,16.5, 187.3,16, 199.5,16.3, 209.2,14.8, 217.8,13.2, 229.9,14.4, 239.7,14.5, 248.2,15.5, 257.9,17.2, 267.6,16.5, 284.7,15.9, 298,16.5, 305.3,15.7, 312.6,14.1, 318.7,13.4, 329.7,14.5, 339.4,14.3, 347.9,16, 357.7,17.3, 367.4,16.5, 380.8,15.8];
const thrust_70 = [0,42.8, 1.9,59.2, 4.9,50.4, 6.1,50.4, 7.3,54.5, 9,33.6, 11.4,-7.3, 14.6,37.4, 17.5,9.5, 21.2,54.2, 24.3,36.3, 27.3,60.7, 29.4,53.2, 31.6,59.4, 32.8,50, 36,3.8, 39.4,32.8, 42.6,24.7, 46.2,53.9, 47.9,50.9, 51.1,62.6, 56.2,76.7, 59.6,41.7, 61.3,16.3, 65.2,39.3, 68.1,30.9, 72.3,47.3, 74.9,42, 77.4,46.6, 80.3,56.9, 82.2,49.9, 86.4,20.1, 90.5,45.3, 94.2,33.6, 97.3,58.3, 100.5,40.7, 104.1,55.6, 107,46.6, 111.9,-7, 115.6,32.5, 118,9.8, 121.7,58.8, 125.3,39, 127.2,66.4, 130.7,49.6, 132.6,56.6, 136.2,-2.2, 139.9,35.2, 142.3,23.6, 146.5,60.7, 148.9,53.4, 152.1,67.5, 154.5,66.2, 155.7,67.5, 161.1,10.8, 165.4,37.7, 167.9,30.4, 171,48.8, 172.7,49.3, 174.4,47.4, 180.5,61.5, 181.3,61.2, 186.9,13.6, 190.7,38.8, 193.7,23.6, 196.6,55.3, 199.5,37.9, 202.4,55.6, 206.3,49.3, 207.3,53.1, 212.2,-7.3, 215.3,33.6, 217.8,10, 221.4,56.1, 224.3,37.7, 227.7,61.5, 230.4,51.5, 232.4,58.8, 236.5,2.4, 239.7,35.5, 242.6,23.6, 246.5,56.6, 248.7,52.8, 253,70.7, 255,70.2, 256.7,72, 261.6,12.5, 265.2,38.8, 268.4,28.2, 272.5,47.7, 274.9,44.7, 279.8,58.3, 281.5,58.3, 286.6,16, 290.3,42, 293.7,23.8, 297.3,57.7, 299.8,39.6, 302.9,58.8, 307.8,47.2, 312.2,-7, 315.6,35.2, 317.5,9.2, 321.6,55.8, 324.8,38.5, 327.7,62.6, 330.9,49.3, 332.6,56.1, 337,0.8, 340.1,36.9, 342.6,25.7, 346.7,58.8, 349.1,53.7, 352.8,71.5, 356.4,72.9, 362,10, 365.7,37.9, 368.6,28.7, 372.3,43.9, 374.7,42.3, 380,60.7];
const valve_70 = [0,0, 1,5, 70.6,5, 72,0, 100,0, 101.2,5, 170.6,5, 172,0, 200,0, 201.2,5, 270.6,5, 272,0, 300,0, 301.2,5, 370.6,5, 372,0, 380,0];

const p2_80 = [0,33, 3.3,36.4, 6.3,33.3, 9.4,32, 15.5,32.5, 20.4,32.7, 24,31.6, 28.9,31, 33.8,31.1, 38.7,32.3, 43.5,33.3, 48.4,33.1, 55.7,33.6, 63,32.5, 76.4,32.4, 83.7,31.8, 92.2,32.6, 99.5,32.8, 102,33.1, 104.4,36, 108,32.4, 112.9,31.5, 119,32.4, 128.7,31.3, 134.8,32.4, 144.5,33.3, 151.8,32.9, 160.3,32.8, 172.4,32.5, 182.1,31.7, 191.9,33.2, 201.7,32.4, 204,35.9, 207.7,32.7, 212.1,31.1, 221.1,32.2, 227.2,31.3, 234.5,32.7, 243,33.5, 252.8,33.2, 267.4,32.2, 279.6,31.8, 286.9,32.8, 301.4,33.3, 303.9,36.4, 307.5,32.7, 313.6,30.9, 322.2,32.4, 329.5,31.6, 336.8,33.3, 341.7,33.5, 350.3,32.2, 357.6,33, 369.8,31.9, 380.8,32.7];
const p5_80 = [0,16.5, 9.7,16.9, 19.5,17.1, 31.6,16.6, 41.4,16.3, 51.1,16.6, 58.4,17, 70.6,17.1, 80.3,17.2, 90,16.9, 99.8,16.8, 109.5,17.1, 124.1,16.6, 143.5,16.5, 158.1,16.8, 174,17.1, 186.1,16.7, 199.5,17.1, 211.7,16.6, 226,16.8, 243,17, 262,16.8, 281,16.6, 300,17, 320,17.1, 340,17, 360,16.9, 372.3,17.1, 380.8,16.8];
const thrust_80 = [0,45, 3,38.5, 6,62.9, 9.2,33.3, 12.1,59.9, 15.5,37.1, 18.4,49, 21.6,38.2, 24.5,47.7, 27.2,36.6, 30.1,52.1, 33.3,36.4, 36.2,46, 39.4,36.9, 42.8,43.6, 44.5,40.1, 47.1,45.3, 52,46.9, 55.7,51.2, 59.3,46.6, 62.5,44.4, 65.4,46, 67.8,40.8, 70.8,46.9, 74,44.7, 78.1,48.7, 80.5,48.2, 85,44.2, 89.8,42, 93.5,38.9, 96.7,45, 98.8,43.5, 101.9,46.6, 104.4,40.4, 106.3,59.3, 109.7,36.3, 112.4,54.5, 115.8,34.4, 119,46.6, 122.2,35.2, 125.3,49.3, 128.2,38.2, 130.6,52.2, 134,41.2, 136.4,48, 139.6,39, 142,42.3, 144.8,39.6, 148.2,44.2, 151.8,45.3, 155.5,49.9, 159.1,45.5, 160.8,46, 162.3,45.3, 165.2,45.8, 168.1,42.5, 171.3,46.3, 175,45.8, 181,44.4, 183.4,42.8, 187.1,45, 190,43.9, 191.9,45.8, 194.3,44.2, 197.3,47.5, 201.7,46, 205.3,37.4, 206.5,57.2, 209.7,28.7, 212.9,50.9, 215.8,32, 219.2,47.3, 222.6,35.2, 225.5,50.6, 228.4,38.2, 231,51.8, 234.1,38.8, 237.1,48.2, 240.3,37.1, 243.2,43.6, 245.2,41.2, 249.3,47.4, 253,48.5, 255.9,51.8, 259.1,46.6, 261.5,48.8, 265.2,45, 268.9,41.5, 272,43.9, 274.4,42.8, 279.8,45.5, 283.4,43.9, 285.9,46, 289,42.8, 291.9,44.4, 294.4,42, 297.3,46.9, 300.5,45.6, 302.4,45.8, 304.8,38.2, 307,60.2, 310.2,29.5, 313.1,52.6, 316.3,30.9, 319.2,44.4, 322.9,37.1, 325.5,50.9, 328,39.6, 330.9,53.2, 334.1,40.4, 337,49.9, 339.9,38.8, 342.6,44.2, 345.5,38.2, 350.4,43.4, 356.4,50.9, 359.6,49, 362,49.3, 363.7,46.6, 366.2,47.2, 369.3,40.1, 372.2,43.1, 375.9,42.3, 380.8,45.5];
const valve_80 = [0,0, 1,5, 81,5, 82.2,0, 100,0, 101.2,5, 181,5, 182.2,0, 200,0, 201.2,5, 281,5, 282.2,0, 300,0, 301.2,5, 380,5, 381,0];

const dutyCycles = [10, 20, 30, 40, 50, 60, 70, 80];
const p2Series = [p2_10, p2_20, p2_30, p2_40, p2_50, p2_60, p2_70, p2_80];
const p5Series = [p5_10, p5_20, p5_30, p5_40, p5_50, p5_60, p5_70, p5_80];
const thrustSeries = [thrust_10, thrust_20, thrust_30, thrust_40, thrust_50, thrust_60, thrust_70, thrust_80];
const valveSeries = [valve_10, valve_20, valve_30, valve_40, valve_50, valve_60, valve_70, valve_80];

const xTicks = [0, 50, 100, 150, 200, 250, 300, 350];
const pressureTicks = [10, 20, 30, 40, 50];
const thrustTicks = [0, 10, 20, 30, 40, 50, 60, 70];
const legendLabels = ['P2 (valve upstream)', 'P5 (Combustion chamber)', 'Thrust', 'Valve'];

const BLUE = '#0000ee';
const RED = '#f80000';
const ORANGE = '#d95319';
const AXIS_BLUE = '#0f77bb';
const FONT = '"Liberation Sans", Arial, sans-serif';
const VALVE_DASH = '27 9 9 9';

const toPoints = (flat: number[]) =>
    d3.range(0, flat.length, 2).map(i => [flat[i], flat[i + 1]] as [number, number]);

export default function App() {
    const svgRef = useRef<SVGSVGElement>(null);

    useEffect(() => {
        if (!svgRef.current) return;
        const svg = d3.select(svgRef.current);
        svg.selectAll('*').remove();

        const width = 1216.5;
        const height = 630.4;
        const left = 160.5;
        const top = 31;

        const x = d3.scaleLinear().domain([0, 380]).range([0, width]);
        const yP = d3.scaleLinear().domain([2.87, 50.68]).range([height, 0]);
        const yT = d3.scaleLinear().domain([-7.6, 76.8]).range([height, 0]);

        const smooth = d3.curveCatmullRom.alpha(0.5);
        const lineP = d3.line<[number, number]>().x(d => x(d[0])).y(d => yP(d[1])).curve(smooth);
        const lineThrust = d3.line<[number, number]>().x(d => x(d[0])).y(d => yT(d[1])).curve(smooth);
        const lineValve = d3.line<[number, number]>().x(d => x(d[0])).y(d => yT(d[1]));

        dutyCycles.forEach((duty, i) => {
            const col = i % 2;
            const row = Math.floor(i / 2);
            const g = svg.append('g').attr('transform', `translate(${left + col * width},${top + row * height})`);

            g.append('clipPath').attr('id', `clip${i}`)
                .append('rect').attr('width', width).attr('height', height);

            // grid, minor first
            d3.range(0, 380, 10).filter(t => t % 50 !== 0).forEach(t => {
                g.append('line').attr('x1', x(t)).attr('x2', x(t)).attr('y1', 0).attr('y2', height)
                    .attr('stroke', '#cfd4d8').attr('stroke-width', 2).attr('stroke-dasharray', '2 3');
            });
            d3.range(4, 51, 2).filter(p => p % 10 !== 0).forEach(p => {
                g.append('line').attr('x1', 0).attr('x2', width).attr('y1', yP(p)).attr('y2', yP(p))
                    .attr('stroke', '#c6dce9').attr('stroke-width', 2).attr('stroke-dasharray', '2 3');
            });
            xTicks.slice(1).forEach(t => {
                g.append('line').attr('x1', x(t)).attr('x2', x(t)).attr('y1', 0).attr('y2', height)
                    .attr('stroke', '#dde1e4').attr('stroke-width', 2.5);
            });
            pressureTicks.forEach(p => {
                g.append('line').attr('x1', 0).attr('x2', width).attr('y1', yP(p)).attr('y2', yP(p))
                    .attr('stroke', '#e2ebf2').attr('stroke-width', 3);
            });

            // series
            const plot = g.append('g').attr('clip-path', `url(#clip${i})`).attr('fill', 'none')
                .attr('stroke-linejoin', 'round');
            plot.append('path').attr('d', lineP(toPoints(p2Series[i])))
                .attr('stroke', BLUE).attr('stroke-width', 6);
            plot.append('path').attr('d', lineP(toPoints(p5Series[i])))
                .attr('stroke', RED).attr('stroke-width', 6);
            plot.append('path').attr('d', lineValve(toPoints(valveSeries[i])))
                .attr('stroke', ORANGE).attr('stroke-width', 6).attr('stroke-dasharray', VALVE_DASH);
            plot.append('path').attr('d', lineThrust(toPoints(thrustSeries[i])))
                .attr('stroke', '#000').attr('stroke-width', 6);

            // box top/bottom
            [0, height].forEach(y => {
                g.append('line').attr('x1', 0).attr('x2', width).attr('y1', y).attr('y2', y)
                    .attr('stroke', '#404040').attr('stroke-width', 2.5);
            });

            // x ticks at top and bottom, labels only on last row
            const isBottom = row === 3;
            const axisB = g.append('g').attr('transform', `translate(0,${height})`)
                .call(d3.axisBottom(x).tickValues(xTicks).tickSize(-13).tickPadding(24)
                    .tickFormat(d => (isBottom ? `${+d / 1000}` : '')));
            axisB.select('.domain').remove();
            axisB.selectAll('.tick line').attr('stroke', '#404040').attr('stroke-width', 2);
            axisB.selectAll('text').attr('fill', '#303030').style('font-family', FONT).style('font-size', '35px');

            const axisTop = g.append('g')
                .call(d3.axisTop(x).tickValues(xTicks).tickSize(-13).tickFormat(() => ''));
            axisTop.select('.domain').remove();
            axisTop.selectAll('.tick line').attr('stroke', '#404040').attr('stroke-width', 2);

            // left axis, labels on the first column
            const axisL = g.append('g')
                .call(d3.axisLeft(yP).tickValues(pressureTicks).tickSize(-13).tickPadding(14)
                    .tickSizeOuter(0).tickFormat(d => (col === 0 ? `${d}` : '')));
            axisL.select('.domain').attr('stroke', AXIS_BLUE).attr('stroke-width', 2.5);
            axisL.selectAll('.tick line').attr('stroke', AXIS_BLUE).attr('stroke-width', 2.5);
            axisL.selectAll('text').attr('fill', AXIS_BLUE).attr('dy', '0.42em')
                .style('font-family', FONT).style('font-size', '35px');

            // right axis, labels on the second column
            const axisR = g.append('g').attr('transform', `translate(${width},0)`)
                .call(d3.axisRight(yT).tickValues(thrustTicks).tickSize(-13).tickPadding(13)
                    .tickSizeOuter(0).tickFormat(d => (col === 1 ? `${d}` : '')));
            axisR.select('.domain').attr('stroke', ORANGE).attr('stroke-width', 2.5);
            axisR.selectAll('.tick line').attr('stroke', ORANGE).attr('stroke-width', 2.5);
            axisR.selectAll('text').attr('fill', ORANGE).attr('dy', '0.42em')
                .style('font-family', FONT).style('font-size', '35px');

            g.append('text').attr('x', 437).attr('y', 77)
                .attr('fill', '#000').style('font-family', FONT).style('font-size', '44px').style('font-weight', 700)
                .text(`Duty Cycle: ${duty}%`);

            if (col === 0) {
                g.append('text').attr('transform', `translate(-71,${height / 2}) rotate(-90)`)
                    .attr('text-anchor', 'middle').attr('fill', AXIS_BLUE)
                    .style('font-family', FONT).style('font-size', '38.5px').text('Pressure (bar)');
            } else {
                g.append('text').attr('transform', `translate(${width + 103},${height / 2}) rotate(-90)`)
                    .attr('text-anchor', 'middle').attr('fill', ORANGE)
                    .style('font-family', FONT).style('font-size', '38.5px').text('Thrust (N)');
            }
            if (isBottom) {
                g.append('text').attr('x', width / 2).attr('y', height + 97)
                    .attr('text-anchor', 'middle').attr('fill', '#303030')
                    .style('font-family', FONT).style('font-size', '39px').text('Time (s)');
            }
        });

        // legend sits over the last panel
        const legend = svg.append('g').attr('transform', 'translate(2061,2326)');
        legend.append('rect').attr('width', 507).attr('height', 170)
            .attr('fill', '#fff').attr('stroke', '#404040').attr('stroke-width', 2.5);
        const legendColors = [BLUE, RED, '#000', ORANGE];
        legendLabels.forEach((label, i) => {
            const y = 25 + i * 40.5;
            legend.append('line').attr('x1', 11).attr('x2', 120).attr('y1', y).attr('y2', y)
                .attr('stroke', legendColors[i]).attr('stroke-width', 6)
                .attr('stroke-dasharray', i === 3 ? VALVE_DASH : null);
            legend.append('text').attr('x', 131).attr('y', y + 11)
                .attr('fill', '#111').style('font-family', FONT).style('font-size', '31.5px').text(label);
        });
    }, []);

    return (
        <svg ref={svgRef} width={2726} height={2679} viewBox="0 0 2726 2679"
            style={{ position: 'absolute', left: 0, top: 0, display: 'block', background: '#fff' }} />
    );
}
